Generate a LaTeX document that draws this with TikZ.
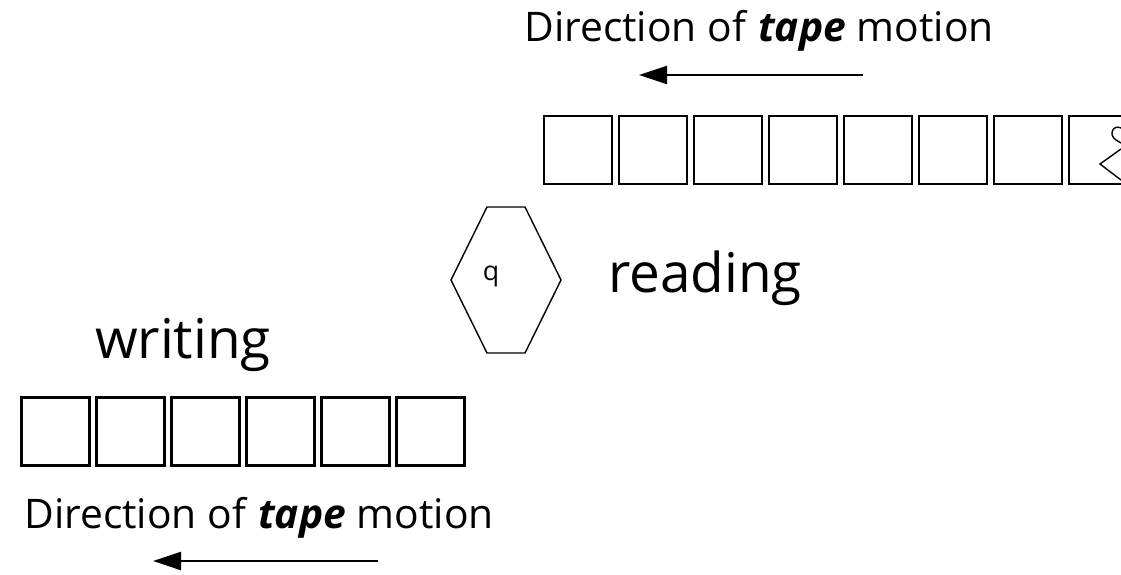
\documentclass[tikz,border=0pt]{standalone}
\usepackage{fontspec}
\setmainfont{Open Sans}
\usetikzlibrary{arrows.meta}
\begin{document}
\begin{tikzpicture}[x=0.025cm, y=-0.025cm,
  cell/.style={draw, line width=1.6pt, rectangle, minimum width=1.7cm,
               minimum height=1.7cm, inner sep=0pt},
  caption/.style={font=\fontsize{29}{33}\selectfont, inner sep=0pt, anchor=base},
  action/.style={font=\fontsize{39}{45}\selectfont, inner sep=0pt, anchor=base},
  motion/.style={line width=1.2pt, -{Triangle[length=20pt,width=13pt]}},
]
\useasboundingbox (0,0) rectangle (1121,574);
\clip (0,0) rectangle (1121,574);
% input tape, running off the right edge
\node[caption] (topcap) at (759,41) {Direction of \textbf{\textit{tape}} motion};
\coordinate (topfrom) at (863,75);
\coordinate (topto) at (639,75);
\draw[motion] (topfrom) -- (topto);
\foreach \i in {0,...,7}
  \node[cell] (in\i) at (578+75*\i,150) {};
% symbol half visible in the last cell
\draw[line width=1pt] (1121,128) .. controls (1113,124) and (1108,135) .. (1116,140)
  .. controls (1119,142) .. (1121,143);
\draw[line width=1pt] (1121,149) -- (1100,164) -- (1121,180);
% control head
\coordinate (headc) at (506,280);
\draw[line width=1pt, shift={(headc)}] (-19,-73) -- (19,-73) -- (55,0)
  -- (19,73) -- (-19,73) -- (-55,0) -- cycle;
\node[font=\fontsize{19}{22}\selectfont, inner sep=0pt] (q) at (491,276) {q};
\node[action] (reading) at (705,292) {reading};
\node[action] (writing) at (183,358) {writing};
% output tape
\foreach \i in {0,...,5}
  \node[cell] (out\i) at (55.5+75*\i,431.5) {};
\node[caption] (botcap) at (259,528) {Direction of \textbf{\textit{tape}} motion};
\coordinate (botfrom) at (378,561);
\coordinate (botto) at (153,561);
\draw[motion] (botfrom) -- (botto);
\end{tikzpicture}
\end{document}
